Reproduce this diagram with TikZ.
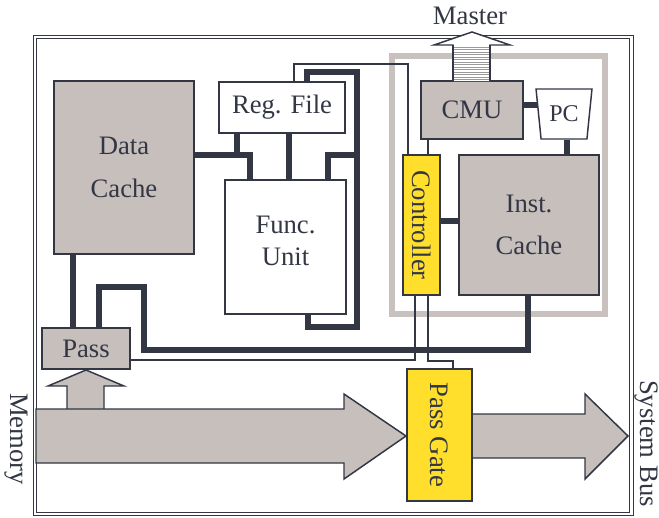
\documentclass[tikz,border=0pt]{standalone}
\usepackage{fontspec}
\setmainfont{Liberation Serif}
\usetikzlibrary{shapes.geometric}
\definecolor{ink}{HTML}{333744}
\definecolor{boxgray}{HTML}{C6BFBC}
\definecolor{framegray}{HTML}{C9C1BE}
\definecolor{gold}{HTML}{FFDF2B}
\definecolor{stripe}{HTML}{9A9A9A}
\pgfdeclarelayer{bg}
\pgfsetlayers{bg,main}
\begin{document}
\begin{tikzpicture}[x=0.75pt,y=-0.75pt,
  blk/.style={draw=ink, line width=1.1pt, inner sep=0pt, text=ink,
    font=\fontsize{20}{24}\selectfont, align=center},
  gblk/.style={blk, fill=boxgray},
  wblk/.style={blk, fill=white},
  yblk/.style={blk, fill=gold},
  lbl/.style={text=ink, font=\fontsize{20}{24}\selectfont, inner sep=0pt, align=center},
  wire/.style={draw=ink, line width=4.5pt},
  thinwire/.style={draw=ink, line width=1.1pt},
  bigarrow/.style={draw=ink, line width=1.1pt, fill=boxgray, line join=miter},
  outerframe/.style={draw=ink, line width=0.8pt, double=white, double distance=1.6pt},
  grayframe/.style={draw=framegray, line width=4.5pt}]
\useasboundingbox (0,0) rectangle (659,517);

% blocks
\node[gblk, minimum width=140*0.75pt, minimum height=173*0.75pt,
      font=\fontsize{20}{32}\selectfont] (dc) at (124,167.5) {Data\\Cache};
\node[wblk, minimum width=126*0.75pt, minimum height=51*0.75pt] (rf) at (282,107.5) {Reg. File};
\node[wblk, minimum width=121*0.75pt, minimum height=134*0.75pt] (fu) at (285.5,247) {};
\node[lbl] (fut) at (285.5,241) {Func.\\Unit};
\node[yblk, minimum width=37*0.75pt, minimum height=140*0.75pt] (ctl) at (421.5,225) {};
\node[lbl, rotate=-90] (ctlt) at (ctl) {Controller};
\node[gblk, minimum width=102*0.75pt, minimum height=58*0.75pt] (cmu) at (472,110) {CMU};
\node[draw=ink, line width=1.1pt, fill=white, trapezium, shape border rotate=180,
      trapezium left angle=78.7, trapezium right angle=78.7, trapezium stretches=true,
      minimum width=56*0.75pt, minimum height=50*0.75pt, inner sep=0pt, text=ink,
      font=\fontsize{18}{22}\selectfont] (pc) at (564,114) {PC};
\node[gblk, minimum width=140*0.75pt, minimum height=140*0.75pt,
      font=\fontsize{20}{31}\selectfont] (ic) at (529,225) {Inst.\\Cache};
\node[gblk, minimum width=88*0.75pt, minimum height=41*0.75pt] (pass) at (86,348.5) {Pass};

% background: frames and wires
\begin{pgfonlayer}{bg}
\draw[outerframe] (35,37) rectangle (631.5,514);
\draw[grayframe] (392,56) rectangle (605,314);
\draw[wire] (dc.east |- 0,155) -- (250,155) -- (fu.north -| 250,0);
\draw[wire] (rf.south -| 237,0) -- (237,155);
\draw[wire] (rf.south -| 289,0) -- (fu.north -| 289,0);
\draw[wire] (rf.north -| 307,0) -- (307,72) -- (357,72) -- (357,327) -- (308,327) -- (fu.south -| 308,0);
\draw[wire] (357,155) -- (328,155) -- (fu.north -| 328,0);
\draw[thinwire] (rf.north -| 294,0) -- (294,64) -- (408,64) -- (ctl.north -| 408,0);
\draw[thinwire] (cmu.south -| 428,0) -- (ctl.north -| 428,0);
\draw[wire] (cmu.east |- 0,105) -- (pc.center |- 0,105);
\draw[wire] (pc.south -| 567,0) -- (ic.north -| 567,0);
\draw[wire] (ctl.east |- 0,221) -- (ic.west |- 0,221);
\draw[wire] (dc.south -| 73,0) -- (pass.north -| 73,0);
\draw[wire] (pass.north -| 99,0) -- (99,287) -- (143.5,287) -- (143.5,350) -- (528,350) -- (ic.south -| 528,0);
\draw[thinwire] (pass.east |- 0,360) -- (415,360) -- (ctl.south -| 415,0);
\coordinate (pgtop) at (453,369);
\draw[thinwire] (ctl.south -| 428,0) -- (428,361) -- (453,361) -- (pgtop);
\end{pgfonlayer}

% Master arrow (over the outer frame)
\draw[draw=ink, line width=1.1pt, fill=white, line join=miter]
  (453,81) -- (453,45) -- (434,45) -- (472,32) -- (510,45) -- (490,45) -- (490,81);
\foreach \yy in {47,49.5,...,80} \draw[stripe, line width=0.5pt] (453.6,\yy) -- (489.4,\yy);
\draw[draw=ink, line width=1.1pt] (453,81) -- (453,45) (490,45) -- (490,81);
\node[lbl] (master) at (470,16) {Master};

% Pass up arrow
\draw[bigarrow] (67,409) -- (67,386) -- (48,386) -- (86,370) -- (124,386) -- (104,386) -- (104,409);
% Memory arrow
\draw[bigarrow] (36,409) -- (344,409) -- (344,394) -- (406,436) -- (344,479) -- (344,463) -- (36,463) -- cycle;
% System bus arrow
\draw[bigarrow] (472,414) -- (585,414) -- (585,394) -- (628,436) -- (585,479) -- (585,458) -- (472,458) -- cycle;

% Pass gate
\node[yblk, minimum width=65*0.75pt, minimum height=132*0.75pt] (pg) at (439.5,435) {};
\node[lbl, rotate=-90] (pgt) at (pg) {Pass Gate};

\node[lbl, rotate=-90] (mem) at (16,439) {Memory};
\node[lbl, rotate=-90] (sysbus) at (646,443.5) {System Bus};
\end{tikzpicture}
\end{document}
